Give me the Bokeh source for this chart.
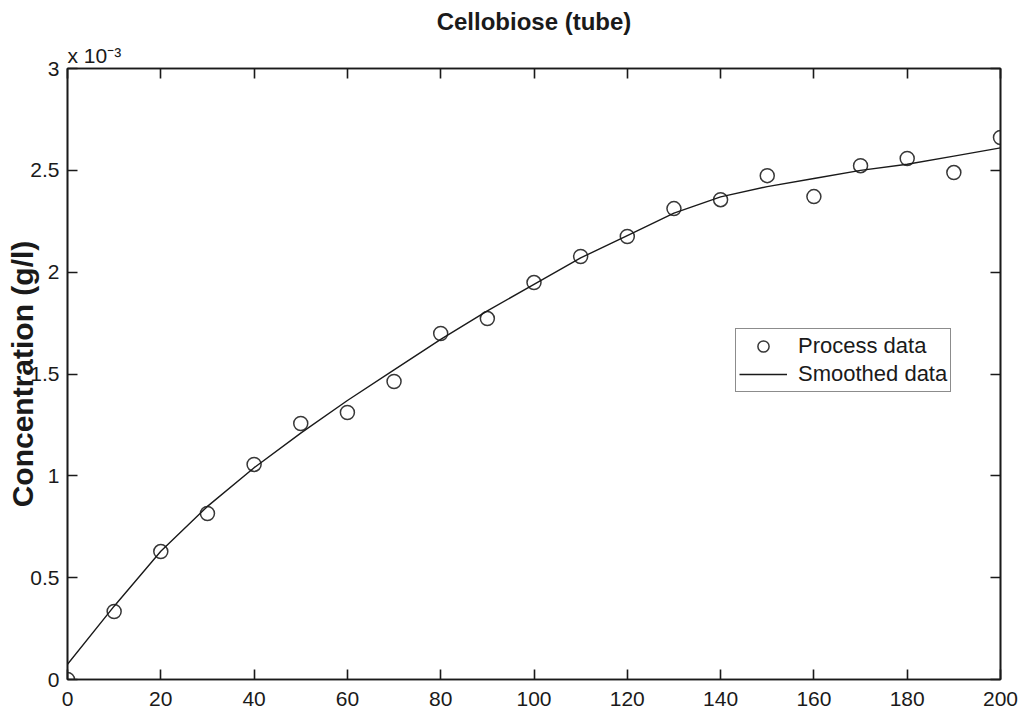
from bokeh.plotting import figure
from bokeh.models import LinearAxis, Range1d, Legend, LegendItem, FixedTicker, Title
from bokeh.embed import file_html
from bokeh.resources import INLINE

time_x = [0, 10, 20, 30, 40, 50, 60, 70, 80, 90, 100, 110, 120, 130, 140, 150, 160, 170, 180, 190, 200]
process_y = [0.0, 0.334, 0.628, 0.815, 1.056, 1.257, 1.311, 1.463, 1.699, 1.772, 1.949, 2.077, 2.175,
             2.312, 2.356, 2.474, 2.371, 2.523, 2.558, 2.489, 2.661]
smooth_y = [0.075, 0.36, 0.63, 0.85, 1.04, 1.21, 1.37, 1.52, 1.67, 1.81, 1.94, 2.07, 2.18,
            2.29, 2.37, 2.42, 2.46, 2.50, 2.53, 2.57, 2.61]
x_ticks = [0, 20, 40, 60, 80, 100, 120, 140, 160, 180, 200]
y_ticks = [0, 0.5, 1, 1.5, 2, 2.5, 3]
y_tick_labels = {0: "0", 0.5: "0.5", 1: "1", 1.5: "1.5", 2: "2", 2.5: "2.5", 3: "3"}

FONT = "Liberation Sans"
INK = "#1a1a1a"

p = figure(width=1021, height=719, output_backend="svg", toolbar_location=None,
           x_range=Range1d(0, 200), y_range=Range1d(0, 3),
           min_border_left=67, min_border_right=21, min_border_top=68, min_border_bottom=40)
p.title.text = "Cellobiose (tube)"
p.title.text_font = FONT
p.title.text_font_size = "24px"
p.title.text_font_style = "bold"
p.title.align = "center"
p.title.text_color = INK
p.title.standoff = 9
p.grid.visible = False
p.background_fill_color = "white"
p.border_fill_color = "white"
p.outline_line_color = INK
p.outline_line_width = 1.6

for ax in p.xaxis + p.yaxis:
    ax.major_tick_in = 10
    ax.major_tick_out = 0
    ax.minor_tick_line_color = None
    ax.axis_line_color = INK
    ax.axis_line_width = 1.6
    ax.major_tick_line_color = INK
    ax.major_tick_line_width = 1.6
    ax.major_label_text_font = FONT
    ax.major_label_text_font_size = "21px"
    ax.major_label_text_color = INK

p.xaxis.ticker = FixedTicker(ticks=x_ticks)
p.yaxis.ticker = FixedTicker(ticks=y_ticks)
p.yaxis.major_label_overrides = y_tick_labels
p.xaxis.major_label_standoff = 12
p.yaxis.major_label_standoff = 8
p.yaxis.axis_label = "Concentration (g/l)"
p.yaxis.axis_label_text_font = FONT
p.yaxis.axis_label_text_font_size = "30px"
p.yaxis.axis_label_text_font_style = "bold"
p.yaxis.axis_label_text_color = INK
p.yaxis.axis_label_standoff = -12

blank_x = {t: "" for t in x_ticks}
blank_y = {t: "" for t in y_ticks}
top = LinearAxis(ticker=FixedTicker(ticks=x_ticks), major_label_overrides=blank_x,
                 major_label_standoff=0,
                 major_tick_in=10, major_tick_out=0, minor_tick_line_color=None,
                 axis_line_color=INK, axis_line_width=1.6, major_tick_line_color=INK,
                 major_tick_line_width=1.6)
right = LinearAxis(ticker=FixedTicker(ticks=y_ticks), major_label_overrides=blank_y,
                   major_label_standoff=0,
                   major_tick_in=10, major_tick_out=0, minor_tick_line_color=None,
                   axis_line_color=INK, axis_line_width=1.6, major_tick_line_color=INK,
                   major_tick_line_width=1.6)
p.add_layout(top, "above")
p.add_layout(right, "right")

exp_title = Title(text="x 10\u207b\u00b3", align="left", text_font=FONT, text_font_size="21px",
                  text_font_style="normal", text_color=INK, standoff=4, offset=0)
p.add_layout(exp_title, "above")

pts = p.scatter(time_x, process_y, marker="circle", size=14, fill_color=None,
                line_color="#383838", line_width=1.5)
ln = p.line(time_x, smooth_y, line_color=INK, line_width=1.4)

legend = Legend(items=[LegendItem(label="Process data", renderers=[pts]),
                       LegendItem(label="Smoothed data", renderers=[ln])],
                location=(668, 287), label_text_font=FONT, label_text_font_size="22px",
                label_text_color=INK, border_line_color=INK, border_line_width=1.3,
                glyph_width=48, glyph_height=28, label_height=28, spacing=0,
                padding=3, margin=0, label_standoff=11)
p.add_layout(legend, "center")

open("out.html", "w").write(file_html(p, INLINE))
